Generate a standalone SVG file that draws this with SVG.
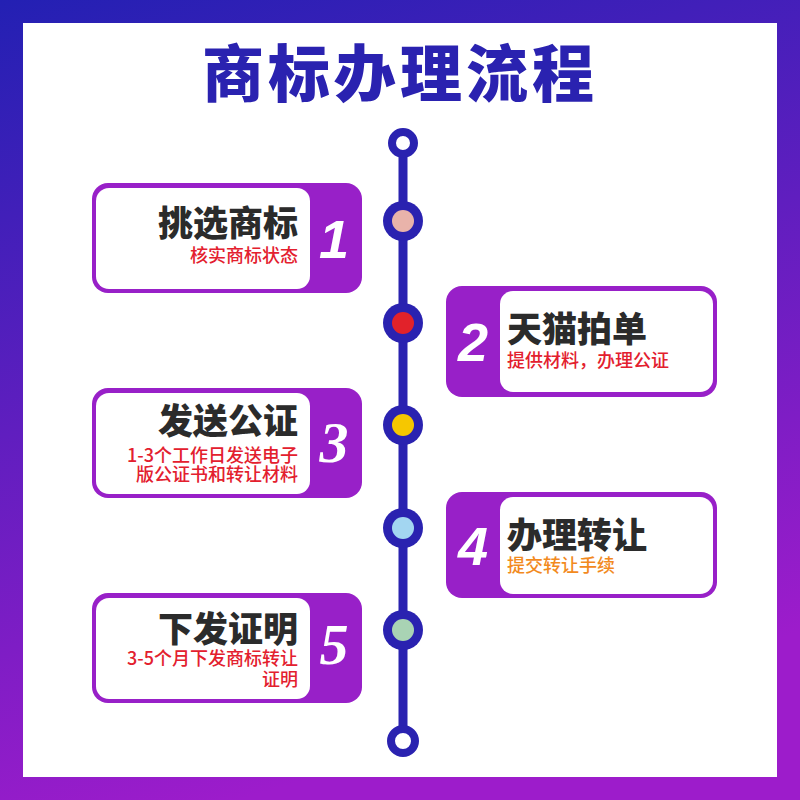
<svg xmlns="http://www.w3.org/2000/svg" width="800" height="800" viewBox="0 0 800 800">
<defs>
<linearGradient id="bg" x1="0" y1="0" x2="0.3" y2="1">
<stop offset="0" stop-color="#2320b3"/>
<stop offset="1" stop-color="#9d1ccb"/>
</linearGradient>
</defs>
<style>
.box{fill:#9820c8}
.inner{fill:#ffffff}
.ttl{font-family:"Noto Sans CJK SC","Noto Sans",sans-serif;font-weight:900;font-size:35px;fill:#2b2b2b}
.sub{font-family:"Noto Sans CJK SC","Noto Sans",sans-serif;font-weight:500;font-size:18px;fill:#e3202e}
.num{font-family:"Liberation Sans",Arial,sans-serif;font-weight:bold;font-style:italic;font-size:54px;fill:#ffffff;text-anchor:middle}
.nums{font-family:"Liberation Serif","Times New Roman",serif;font-weight:bold;font-style:italic;font-size:58px;fill:#ffffff;text-anchor:middle}
.ring{fill:#2a22b0}
.line{stroke:#2a22b0;stroke-width:9;fill:none}
.end{fill:#ffffff;stroke:#2a22b0;stroke-width:8}
</style>
<rect x="0" y="0" width="800" height="800" fill="url(#bg)"/>
<rect x="23" y="23" width="754" height="754" fill="#ffffff"/>
<text x="400" y="97" text-anchor="middle" font-family="'Noto Sans CJK SC','Noto Sans',sans-serif" font-weight="900" font-size="62" letter-spacing="4" fill="#2a22b0">商标办理流程</text>
<g id="connectors">
<line class="line" x1="403" y1="143" x2="403" y2="741"/>
<circle class="end" cx="403" cy="143" r="11"/>
<circle class="end" cx="403" cy="741" r="12"/>
</g>
<g id="dot1"><circle class="ring" cx="403" cy="221" r="20"/><circle cx="403" cy="221" r="11" fill="#e9b3aa"/></g>
<g id="dot2"><circle class="ring" cx="403" cy="323" r="20"/><circle cx="403" cy="323" r="11" fill="#e2222a"/></g>
<g id="dot3"><circle class="ring" cx="403" cy="425" r="20"/><circle cx="403" cy="425" r="11" fill="#f6c700"/></g>
<g id="dot4"><circle class="ring" cx="403" cy="528" r="20"/><circle cx="403" cy="528" r="11" fill="#a3d6f1"/></g>
<g id="dot5"><circle class="ring" cx="403" cy="630" r="20"/><circle cx="403" cy="630" r="11" fill="#a9d3b4"/></g>
<g id="step1">
<rect class="box" x="92" y="183" width="270" height="110" rx="16"/>
<rect class="inner" x="96" y="188" width="214" height="101" rx="13"/>
<text class="ttl" x="298" y="236" text-anchor="end">挑选商标</text>
<text class="sub" x="298" y="262" text-anchor="end">核实商标状态</text>
<text class="num" x="334" y="258">1</text>
</g>
<g id="step2">
<rect class="box" x="446" y="286" width="271" height="111" rx="16"/>
<rect class="inner" x="500" y="291" width="213" height="101" rx="13"/>
<text class="ttl" x="507" y="342">天猫拍单</text>
<text class="sub" x="507" y="367">提供材料，办理公证</text>
<text class="num" x="473" y="361">2</text>
</g>
<g id="step3">
<rect class="box" x="92" y="388" width="270" height="110" rx="16"/>
<rect class="inner" x="96" y="393" width="214" height="101" rx="13"/>
<text class="ttl" x="298" y="434" text-anchor="end">发送公证</text>
<text class="sub" x="298" y="462" text-anchor="end">1-3个工作日发送电子</text>
<text class="sub" x="298" y="481" text-anchor="end">版公证书和转让材料</text>
<text class="nums" x="334" y="462">3</text>
</g>
<g id="step4">
<rect class="box" x="446" y="492" width="271" height="106" rx="16"/>
<rect class="inner" x="500" y="497" width="213" height="97" rx="13"/>
<text class="ttl" x="507" y="548">办理转让</text>
<text class="sub" x="507" y="572" style="fill:#f28a1e">提交转让手续</text>
<text class="num" x="473" y="565">4</text>
</g>
<g id="step5">
<rect class="box" x="92" y="593" width="270" height="110" rx="16"/>
<rect class="inner" x="96" y="598" width="214" height="101" rx="13"/>
<text class="ttl" x="298" y="642" text-anchor="end">下发证明</text>
<text class="sub" x="298" y="665" text-anchor="end">3-5个月下发商标转让</text>
<text class="sub" x="298" y="686" text-anchor="end">证明</text>
<text class="nums" x="334" y="664">5</text>
</g>
</svg>
